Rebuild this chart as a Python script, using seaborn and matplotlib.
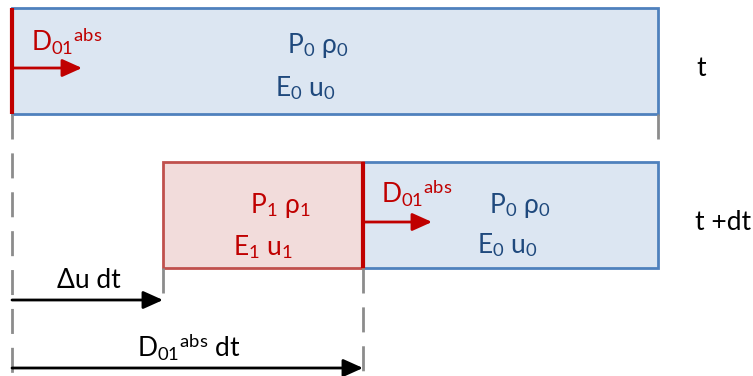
import matplotlib
matplotlib.use("Agg")
import matplotlib.pyplot as plt
import seaborn as sns
from matplotlib.patches import Rectangle

# diagram content
row_labels = ["t", "t +dt"]
state0_lines = ["P$_0$ ρ$_0$", "E$_0$ u$_0$"]
state1_lines = ["P$_1$ ρ$_1$", "E$_1$ u$_1$"]
shock_label = "D$_{01}$$^{\\mathrm{abs}}$"
dist_labels = ["Δu dt", "D$_{01}$$^{\\mathrm{abs}}$ dt"]

# positions along the tube (pixel units of the sketch)
x_left = 12
x_piston = 163      # contact surface at t+dt
x_shock = 363       # shock position at t+dt
x_right = 658

sns.set_theme(style="white")
plt.rcParams["font.family"] = ["Lato", "DejaVu Sans"]
plt.rcParams["mathtext.fontset"] = "custom"
plt.rcParams["mathtext.rm"] = "Lato"
plt.rcParams["mathtext.it"] = "Lato:italic"

BLUE_FILL = "#dce6f2"
BLUE_EDGE = "#4f81bd"
RED_FILL = "#f2dcdb"
RED_EDGE = "#c0504d"
RED = "#c00000"
NAVY = "#1f497d"
GRAY = "#8c8c8c"
FS = 19

fig = plt.figure(figsize=(7.53, 3.76), dpi=100)
ax = fig.add_axes([0, 0, 1, 1])
ax.set_xlim(0, 753)
ax.set_ylim(376, 0)
ax.axis("off")

arrow = "-|>,head_length=1.0,head_width=0.45"

# --- row t ---
ax.add_patch(Rectangle((x_left, 8), x_right - x_left, 106, facecolor=BLUE_FILL,
                       edgecolor=BLUE_EDGE, lw=2))
ax.plot([x_left, x_left], [8, 114], color=RED, lw=3, solid_capstyle="butt")
ax.annotate("", xy=(x_left + 70, 68), xytext=(x_left, 68),
            arrowprops=dict(arrowstyle=arrow, color=RED, lw=2, shrinkA=0, shrinkB=0))
ax.text(31, 40, shock_label, color=RED, fontsize=FS, ha="left", va="center")
ax.text(318, 46, state0_lines[0], color=NAVY, fontsize=FS, ha="center", va="center")
ax.text(305, 88, state0_lines[1], color=NAVY, fontsize=FS, ha="center", va="center")
ax.text(701, 68, row_labels[0], color="black", fontsize=FS, ha="center", va="center")

# --- row t+dt ---
ax.add_patch(Rectangle((x_shock, 162), x_right - x_shock, 106, facecolor=BLUE_FILL,
                       edgecolor=BLUE_EDGE, lw=2))
ax.add_patch(Rectangle((x_piston, 162), x_shock - x_piston, 106, facecolor=RED_FILL,
                       edgecolor=RED_EDGE, lw=2))
ax.plot([x_shock, x_shock], [162, 268], color=RED, lw=3, solid_capstyle="butt")
ax.annotate("", xy=(x_shock + 69, 222), xytext=(x_shock, 222),
            arrowprops=dict(arrowstyle=arrow, color=RED, lw=2, shrinkA=0, shrinkB=0))
ax.text(381, 192, shock_label, color=RED, fontsize=FS, ha="left", va="center")
ax.text(280, 206, state1_lines[0], color=RED, fontsize=FS, ha="center", va="center")
ax.text(263, 247, state1_lines[1], color=RED, fontsize=FS, ha="center", va="center")
ax.text(520, 206, state0_lines[0], color=NAVY, fontsize=FS, ha="center", va="center")
ax.text(507, 245, state0_lines[1], color=NAVY, fontsize=FS, ha="center", va="center")
ax.text(723, 222, row_labels[1], color="black", fontsize=FS, ha="center", va="center")

# --- dashed guides ---
dash = dict(color=GRAY, lw=2, dashes=(9, 5))
ax.plot([x_left, x_left], [114, 374], **dash)
ax.plot([x_right, x_right], [114, 150], **dash)
ax.plot([x_piston, x_piston], [268, 306], **dash)
ax.plot([x_shock, x_shock], [268, 374], **dash)

# --- distance arrows ---
for x_end, y, label, ly in [(x_piston, 300, dist_labels[0], 281),
                            (x_shock, 368, dist_labels[1], 347)]:
    ax.annotate("", xy=(x_end, y), xytext=(x_left, y),
                arrowprops=dict(arrowstyle=arrow, color="black", lw=2, shrinkA=0, shrinkB=0))
    ax.text((x_left + x_end) / 2 + 1, ly, label, color="black", fontsize=FS,
            ha="center", va="center")

fig.savefig("out.png", dpi=100)
